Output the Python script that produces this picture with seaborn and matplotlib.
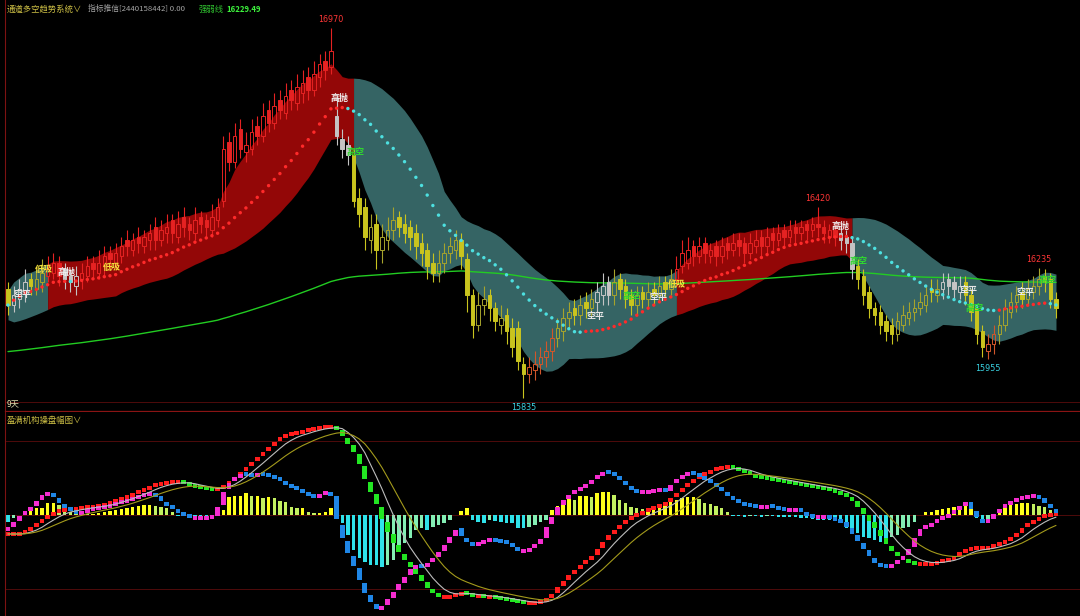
import matplotlib
matplotlib.use("Agg")
import matplotlib.pyplot as plt
import numpy as np
import pandas as pd
import seaborn as sns

sns.set_theme(style="dark")
plt.rcParams['font.family'] = ['Noto Sans CJK SC', 'DejaVu Sans']
plt.rcParams['axes.unicode_minus'] = False

# ================================ data ======================================
# daily candles (bar index 0..185)
opens = [
    16170, 16120, 16140, 16160, 16200, 16170, 16190, 16210, 16220, 16250,
    16230, 16210, 16180, 16200, 16210, 16250, 16220, 16240, 16280, 16250,
    16270, 16320, 16290, 16330, 16300, 16320, 16360, 16320, 16340, 16380,
    16330, 16390, 16370, 16340, 16390, 16380, 16350, 16380, 16440, 16620,
    16560, 16660, 16590, 16600, 16670, 16640, 16720, 16680, 16750, 16710,
    16780, 16740, 16770, 16820, 16780, 16820, 16870, 16850, 16700, 16630,
    16610, 16580, 16450, 16420, 16320, 16370, 16290, 16320, 16350, 16390,
    16370, 16360, 16340, 16310, 16290, 16250, 16220, 16250, 16280, 16290,
    16320, 16260, 16150, 16060, 16120, 16150, 16110, 16060, 16090, 16050,
    16050, 15940, 15910, 15920, 15940, 15960, 15980, 16020, 16040, 16080,
    16110, 16090, 16130, 16110, 16130, 16150, 16190, 16150, 16200, 16180,
    16150, 16120, 16160, 16140, 16170, 16150, 16190, 16170, 16200, 16240,
    16250, 16300, 16270, 16310, 16270, 16300, 16270, 16310, 16290, 16320,
    16310, 16280, 16300, 16330, 16300, 16340, 16320, 16350, 16330, 16360,
    16340, 16370, 16350, 16370, 16360, 16330, 16350, 16340, 16330, 16310,
    16240, 16210, 16160, 16110, 16100, 16070, 16060, 16030, 16060, 16080,
    16100, 16110, 16120, 16170, 16150, 16170, 16200, 16190, 16160, 16190,
    16150, 16110, 16040, 15980, 16000, 16030, 16060, 16100, 16130, 16160,
    16140, 16160, 16180, 16210, 16200, 16140]
highs = [
    16190, 16180, 16200, 16230, 16220, 16230, 16260, 16270, 16280, 16270,
    16250, 16230, 16240, 16250, 16270, 16270, 16290, 16300, 16300, 16310,
    16330, 16350, 16340, 16360, 16350, 16370, 16390, 16380, 16400, 16400,
    16410, 16420, 16390, 16420, 16410, 16400, 16430, 16450, 16640, 16650,
    16680, 16690, 16650, 16690, 16700, 16740, 16750, 16770, 16780, 16800,
    16810, 16830, 16840, 16850, 16870, 16890, 16900, 16970, 16760, 16660,
    16640, 16600, 16480, 16450, 16400, 16400, 16370, 16390, 16420, 16410,
    16400, 16380, 16370, 16340, 16310, 16280, 16290, 16310, 16330, 16350,
    16340, 16280, 16170, 16160, 16180, 16170, 16130, 16120, 16110, 16080,
    16070, 15960, 15960, 15980, 15990, 16010, 16050, 16080, 16110, 16130,
    16140, 16150, 16160, 16170, 16190, 16220, 16210, 16230, 16220, 16200,
    16170, 16180, 16180, 16190, 16190, 16210, 16210, 16230, 16270, 16320,
    16330, 16320, 16330, 16330, 16310, 16320, 16330, 16330, 16340, 16340,
    16330, 16340, 16350, 16350, 16360, 16360, 16370, 16370, 16380, 16380,
    16380, 16380, 16390, 16420, 16380, 16370, 16370, 16360, 16350, 16330,
    16260, 16230, 16180, 16130, 16120, 16090, 16080, 16100, 16120, 16130,
    16140, 16160, 16180, 16200, 16200, 16220, 16220, 16210, 16210, 16210,
    16170, 16120, 16060, 16030, 16060, 16090, 16140, 16160, 16180, 16190,
    16200, 16210, 16235, 16230, 16220, 16160]
lows = [
    16090, 16100, 16110, 16130, 16150, 16150, 16160, 16190, 16200, 16180,
    16170, 16160, 16150, 16170, 16190, 16200, 16200, 16210, 16230, 16230,
    16250, 16270, 16270, 16280, 16280, 16290, 16290, 16300, 16310, 16310,
    16310, 16330, 16320, 16320, 16340, 16330, 16330, 16360, 16420, 16530,
    16540, 16570, 16560, 16580, 16610, 16620, 16650, 16660, 16690, 16690,
    16720, 16720, 16740, 16750, 16760, 16790, 16810, 16830, 16610, 16570,
    16550, 16420, 16360, 16290, 16280, 16230, 16250, 16290, 16320, 16330,
    16310, 16290, 16260, 16240, 16200, 16190, 16190, 16220, 16250, 16260,
    16230, 16100, 16020, 16040, 16090, 16070, 16040, 16030, 16000, 15960,
    15920, 15835, 15880, 15890, 15910, 15930, 15950, 15990, 16010, 16050,
    16060, 16060, 16080, 16080, 16100, 16120, 16120, 16120, 16140, 16110,
    16090, 16090, 16110, 16110, 16120, 16130, 16140, 16150, 16180, 16220,
    16230, 16240, 16250, 16250, 16250, 16240, 16250, 16260, 16270, 16270,
    16250, 16260, 16280, 16270, 16280, 16290, 16300, 16300, 16310, 16310,
    16320, 16320, 16330, 16330, 16310, 16310, 16300, 16290, 16280, 16200,
    16170, 16120, 16080, 16060, 16030, 16010, 16000, 16010, 16040, 16060,
    16070, 16090, 16100, 16130, 16130, 16140, 16150, 16140, 16140, 16120,
    16070, 16000, 15960, 15955, 15970, 16000, 16040, 16080, 16100, 16110,
    16120, 16140, 16150, 16160, 16110, 16080]
closes = [
    16120, 16150, 16170, 16190, 16180, 16200, 16220, 16230, 16250, 16210,
    16200, 16190, 16210, 16220, 16240, 16230, 16250, 16270, 16260, 16280,
    16300, 16300, 16320, 16310, 16330, 16340, 16320, 16350, 16360, 16340,
    16370, 16360, 16350, 16380, 16370, 16360, 16390, 16420, 16600, 16560,
    16640, 16600, 16610, 16650, 16640, 16700, 16680, 16730, 16720, 16760,
    16750, 16790, 16800, 16780, 16830, 16860, 16840, 16900, 16640, 16600,
    16580, 16440, 16400, 16330, 16360, 16290, 16330, 16350, 16380, 16360,
    16340, 16330, 16300, 16280, 16240, 16220, 16250, 16280, 16300, 16320,
    16270, 16150, 16060, 16120, 16140, 16110, 16070, 16080, 16040, 15990,
    15950, 15910, 15930, 15940, 15960, 15980, 16020, 16050, 16080, 16100,
    16090, 16120, 16110, 16140, 16160, 16180, 16150, 16190, 16170, 16140,
    16120, 16150, 16140, 16160, 16150, 16180, 16170, 16200, 16230, 16280,
    16290, 16270, 16300, 16280, 16290, 16270, 16300, 16290, 16310, 16300,
    16280, 16310, 16320, 16300, 16330, 16320, 16340, 16330, 16350, 16340,
    16360, 16350, 16370, 16360, 16340, 16350, 16330, 16320, 16310, 16230,
    16200, 16150, 16110, 16090, 16060, 16040, 16030, 16070, 16090, 16100,
    16110, 16130, 16150, 16160, 16170, 16190, 16180, 16170, 16180, 16150,
    16100, 16030, 15990, 16000, 16030, 16060, 16110, 16130, 16150, 16140,
    16170, 16180, 16200, 16190, 16140, 16110]

# trend regimes of the channel (first bar of each regime)
regime_start = [0, 7, 61, 118, 149]
regime_up = [False, True, False, True, False]
gray_idx = [1, 2, 3, 10, 11, 12, 58, 59, 60, 104, 105, 106, 147, 148, 149, 165, 166, 167, 168]
orange_idx = [92, 93, 94, 95, 96, 173, 174]
long_ma_start = 15976

# signal labels in the price panel
sig_pos = [2.5, 6.3, 10.4, 18.3, 58.5, 61.3, 103.7, 110, 114.8, 118,
           147, 150.2, 169.5, 170.6, 179.6, 183.5]
sig_price = [16154, 16231, 16222, 16237, 16755, 16590, 16084, 16148, 16142, 16182,
             16363, 16255, 16166, 16111, 16160, 16197]
sig_text = ['空平', '低吸', '高抛', '低吸', '高抛', '高空', '空平', '高空', '空平', '低吸',
            '高抛', '高空', '空平', '高空', '空平', '高空']
peak_idx = [57, 143, 182]
trough_idx = [91, 173]

# lower panel (in panel units, 0 = zero line)
fast_line = [
    -15, -12, -6, 0, 4, 9, 15, 21, 22, 17,
    11, 7, 4, 2, 3, 5, 7, 8, 9, 10,
    12, 14, 15, 17, 19, 21, 21, 19, 13, 9,
    6, 2, 0, -3, -3, -3, -2, -1, 10, 26,
    34, 38, 41, 40, 39, 41, 40, 39, 37, 34,
    30, 28, 26, 22, 19, 18, 21, 23, 19, -10,
    -26, -41, -53, -68, -80, -89, -95, -90, -83, -75,
    -68, -60, -53, -51, -52, -47, -42, -36, -28, -21,
    -13, -23, -28, -30, -27, -26, -24, -26, -27, -28,
    -33, -36, -36, -33, -29, -23, -9, 0, 10, 16,
    21, 25, 28, 31, 36, 40, 43, 42, 39, 34,
    29, 25, 23, 23, 24, 25, 26, 24, 32, 37,
    40, 42, 41, 38, 35, 32, 28, 23, 19, 15,
    12, 10, 9, 8, 8, 9, 8, 6, 5, 5,
    6, 3, -1, -2, -2, -2, -3, -6, -7, -13,
    -20, -28, -35, -43, -49, -51, -52, -49, -45, -40,
    -32, -21, -12, -11, -8, -4, -2, 1, 5, 9,
    13, 4, -4, -8, -4, 2, 7, 11, 14, 17,
    18, 19, 19, 17, 11, 6]
slow_line = [
    -19, -19, -19, -18, -15, -12, -8, -3, 0, 3,
    5, 6, 6, 7, 8, 8, 9, 10, 11, 13,
    15, 17, 19, 22, 24, 26, 29, 31, 32, 33,
    33, 33, 32, 30, 28, 27, 26, 25, 27, 30,
    34, 39, 44, 49, 54, 59, 64, 69, 74, 78,
    80, 82, 83, 84, 86, 87, 88, 88, 88, 85,
    77, 70, 61, 49, 33, 21, 8, -7, -19, -30,
    -39, -47, -53, -60, -67, -74, -78, -82, -82, -81,
    -79, -78, -79, -81, -81, -82, -82, -83, -84, -85,
    -86, -87, -88, -88, -88, -86, -83, -78, -71, -65,
    -59, -54, -49, -45, -40, -33, -25, -19, -14, -9,
    -4, -1, 1, 4, 6, 8, 10, 13, 18, 23,
    28, 32, 36, 40, 42, 45, 47, 48, 48, 47,
    45, 43, 40, 38, 37, 36, 35, 34, 33, 32,
    31, 30, 29, 28, 27, 26, 25, 23, 21, 18,
    14, 7, 0, -7, -15, -23, -31, -37, -41, -45,
    -48, -49, -49, -49, -48, -47, -45, -44, -41, -37,
    -34, -33, -33, -33, -32, -30, -28, -26, -22, -18,
    -12, -8, -5, -2, 0, 1]
hist_vals = [
    -7, -3, 0, 3, 6, 7, 7, 12, 12, 10,
    7, 3, 2, 2, 1, 1, 2, 3, 4, 5,
    6, 7, 8, 9, 10, 10, 9, 8, 7, 3,
    -1, -1, -1, -1, -1, -1, -1, -1, 5, 18,
    19, 19, 22, 19, 19, 17, 18, 17, 14, 13,
    8, 7, 7, 3, 2, 2, 3, 7, 5, -8,
    -20, -35, -43, -47, -50, -50, -52, -50, -45, -35,
    -28, -23, -15, -13, -15, -12, -10, -8, -5, 0,
    4, 7, -5, -7, -8, -5, -6, -7, -8, -8,
    -13, -13, -12, -10, -7, -5, 5, 9, 12, 17,
    15, 19, 19, 18, 22, 23, 23, 20, 15, 12,
    8, 7, 6, 7, 8, 9, 12, 13, 15, 17,
    18, 18, 16, 12, 11, 9, 7, 3, -1, -1,
    -2, -1, -1, -2, -1, -1, -2, -2, -2, -2,
    -3, -3, -4, -5, -5, -5, -6, -7, -13, -17,
    -18, -22, -23, -25, -27, -28, -22, -20, -13, -12,
    -7, 0, 3, 3, 5, 6, 7, 8, 8, 10,
    12, -3, -5, -4, -2, 2, 8, 10, 11, 12,
    12, 11, 9, 8, 5, 2]

# ================================ colours ===================================
W, H = 1080, 616
RED_BAND = '#930707'
TEAL_BAND = '#356464'
GRID_RED = '#5c0d0d'
AXIS_RED = '#7d1212'

n = len(closes)
xs = np.arange(n)
df = pd.DataFrame({'o': opens, 'h': highs, 'l': lows, 'c': closes})

# channel: centre = 20-bar mean, edges follow the faster average,
# padded by a volatility term
center = df['c'].rolling(20, min_periods=1).mean().to_numpy()
fast_ma = df['c'].ewm(span=14, adjust=False).mean().to_numpy()
vol = df['c'].rolling(20, min_periods=2).std().fillna(0).to_numpy()
pad = 45 + 0.5 * vol
upper = np.maximum(center, fast_ma) + pad
lower = np.minimum(center, fast_ma) - pad
long_ma = pd.Series([long_ma_start] + closes).ewm(span=200, adjust=False).mean().iloc[1:].to_numpy()

up = np.zeros(n, bool)
for s, flag in zip(regime_start, regime_up):
    up[s:] = flag

fig = plt.figure(figsize=(W / 100, H / 100), dpi=100, facecolor='black')
ax1 = fig.add_axes([5 / W, 1 - 411 / H, 1075 / W, 411 / H])
ax2 = fig.add_axes([5 / W, 0, 1075 / W, 204 / H])
xlim = (-0.53, 189.24)

for ax in (ax1, ax2):
    ax.set_facecolor('black')
    ax.grid(False)
    for sp in ax.spines.values():
        sp.set_visible(False)
    ax.spines['left'].set_visible(True)
    ax.spines['left'].set_color(AXIS_RED)
    ax.spines['left'].set_linewidth(0.8)
    ax.set_xlim(*xlim)

# ============================== price panel =================================
ax1.set_ylim(15795.2, 17055.9)
ax1.spines['bottom'].set_visible(True)
ax1.spines['bottom'].set_color('#8a1414')
ax1.spines['bottom'].set_linewidth(0.9)
ax1.axhline(15823, color=GRID_RED, lw=0.6, zorder=0)

bounds = regime_start + [n - 1]
for k, s in enumerate(regime_start):
    sl = slice(s, bounds[k + 1] + 1)
    ax1.fill_between(xs[sl], lower[sl], upper[sl], lw=0, zorder=1,
                     color=RED_BAND if regime_up[k] else TEAL_BAND)

sns.lineplot(x=xs, y=long_ma, ax=ax1, color='#22cc22', linewidth=1.0, zorder=2)

o = df['o'].to_numpy()
c = df['c'].to_numpy()
hi = df['h'].to_numpy()
lo = df['l'].to_numpy()
body_lo = np.minimum(o, c)
body_hi = np.maximum(o, c)
rising = c >= o
cols = []
for i in range(n):
    if i in gray_idx:
        cols.append('#c4c4c4')
    elif i in orange_idx:
        cols.append('#d2562a')
    elif up[i]:
        cols.append('#e52222')
    else:
        cols.append('#c9c41e' if not rising[i] else '#a6a32c')
faces = [('none' if rising[i] else cols[i]) for i in range(n)]
ax1.vlines(xs, body_hi, hi, colors=cols, lw=0.8, zorder=3)
ax1.vlines(xs, lo, body_lo, colors=cols, lw=0.8, zorder=3)
ax1.bar(xs, np.maximum(body_hi - body_lo, 4), bottom=body_lo, width=0.62,
        color=faces, edgecolor=cols, linewidth=0.7, zorder=3)

dot_cols = ['#ff2a2a' if (i > 0 and center[i] >= center[i - 1]) else '#4de0e0' for i in range(n)]
ax1.scatter(xs, center, s=6, c=dot_cols, linewidths=0, zorder=5)

sig_colors = {'高抛': '#f2f2f2', '低吸': '#f5e23c', '空平': '#e6e6e6', '高空': '#2fd82f'}
for p, y, t in zip(sig_pos, sig_price, sig_text):
    ax1.text(p, y, t, color=sig_colors[t], fontsize=6.5, fontweight='bold',
             ha='center', va='center', zorder=6)
for i in peak_idx:
    ax1.text(i, highs[i] + 26, f"{highs[i]}", color='#ff3636', fontsize=5.8,
             ha='center', va='center', family='DejaVu Sans', zorder=6)
for i in trough_idx:
    ax1.text(i, lows[i] - 28, f"{lows[i]}", color='#3ad2e2', fontsize=5.8,
             ha='center', va='center', family='DejaVu Sans', zorder=6, clip_on=False)

ax1.set_yticks([16750, 16575, 16400, 16225, 16050, 15875])
ax1.set_xticks([163])
ax1.tick_params(axis='y', direction='out', length=3, color=AXIS_RED, labelleft=False)
ax1.tick_params(axis='x', direction='in', length=6, color='#8c8c8c', labelbottom=False)

# ============================== indicator panel =============================
ax2.set_ylim(-101, 103)
for yv in (74, 0, -74):
    ax2.axhline(yv, color=GRID_RED, lw=0.6, zorder=0)

hist = np.asarray(hist_vals, float)
prev = np.concatenate([[hist[0]], hist[:-1]])
hcols = []
for h, pv in zip(hist, prev):
    if h >= 0:
        hcols.append('#ffff1a' if h >= pv else '#c3f060')
    else:
        hcols.append('#2fe2ea' if h <= pv else '#84eeb4')
ax2.bar(xs, hist, width=0.6, color=hcols, linewidth=0, zorder=2)


def step_marks(vals, up_col, dn_col):
    v = np.asarray(vals, float)
    nxt = np.append(v[1:], 2 * v[-1] - v[-2])
    dv = nxt - v
    h = 0.8 * dv
    bottom = np.where(h >= 0, v, v + h)
    height = np.abs(h)
    small = height < 4
    bottom = np.where(small, v + h / 2 - 2, bottom)
    height = np.where(small, 4, height)
    colors = [up_col if d >= 0 else dn_col for d in dv]
    return bottom, height, colors


b, hgt, cl = step_marks(slow_line, '#ff1c1c', '#22e622')
ax2.bar(xs, hgt, bottom=b, width=0.85, color=cl, linewidth=0, zorder=4)
b, hgt, cl = step_marks(fast_line, '#f52ccf', '#1f86e6')
ax2.bar(xs, hgt, bottom=b, width=0.85, color=cl, linewidth=0, zorder=4)

slow_s = pd.Series(slow_line, dtype=float)
sns.lineplot(x=xs, y=slow_s.ewm(span=4, adjust=False).mean().to_numpy(), ax=ax2,
             color='#bdbdbd', linewidth=0.8, zorder=5)
sns.lineplot(x=xs, y=slow_s.ewm(span=10, adjust=False).mean().to_numpy(), ax=ax2,
             color='#a39a1c', linewidth=0.8, zorder=5)

ax2.set_yticks([74, 0, -74])
ax2.set_xticks([163])
ax2.tick_params(axis='y', direction='out', length=3, color=AXIS_RED, labelleft=False)
ax2.tick_params(axis='x', direction='in', length=10, color='#8c8c8c', labelbottom=False)
for ax in (ax1, ax2):
    ax.set_xlabel('')
    ax.set_ylabel('')

# ================================ captions ==================================
def ftext(x, y, s, **kw):
    fig.text(x / W, 1 - y / H, s, va='center', ha='left', **kw)


ftext(7, 9, "通道多空趋势系统∨", color='#cdbf45', fontsize=6)
ftext(88, 9, "指标推信[2440158442] 0.00", color='#a6a6a6', fontsize=5.6)
ftext(199, 9, "强弱线", color='#2fbf2f', fontsize=6)
ftext(226, 9, "16229.49", color='#3cf03c', fontsize=5.6, fontweight='bold')
ftext(7, 404, "9天", color='#e6e2b0', fontsize=6)
ftext(7, 420, "盈满机构操盘幅图∨", color='#cdbf45', fontsize=6)

fig.savefig('out.png', dpi=100, facecolor='black')
